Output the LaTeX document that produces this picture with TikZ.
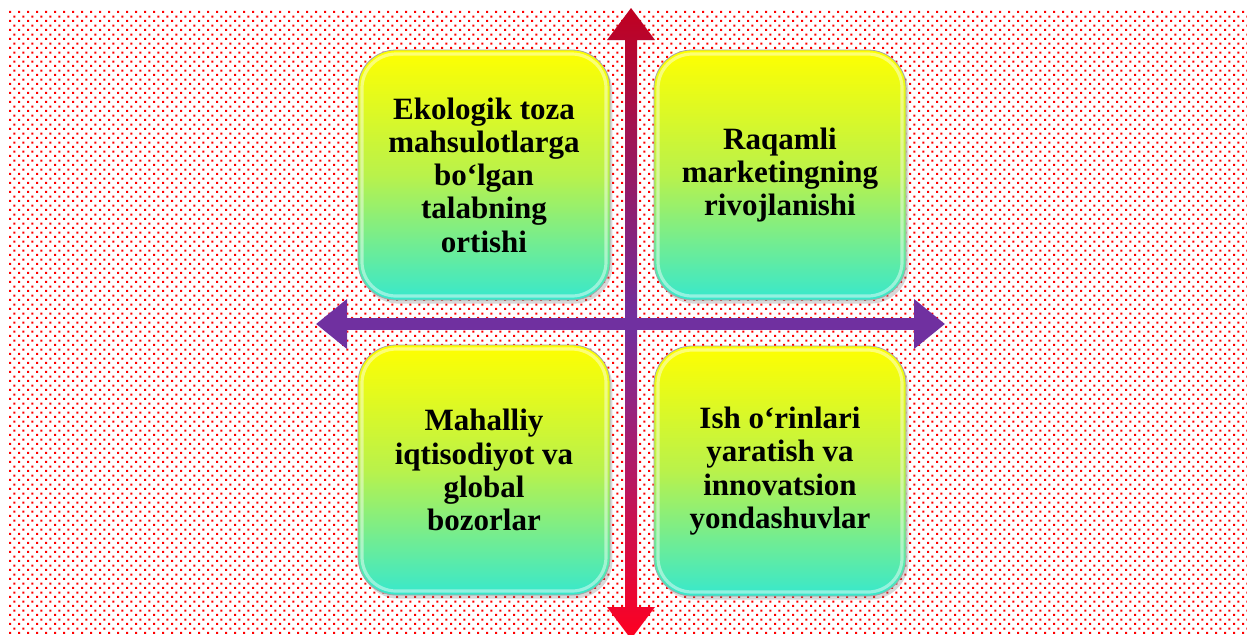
\documentclass[tikz,border=0pt]{standalone}
\usepackage{fontspec}
\setmainfont{Liberation Serif}
\usetikzlibrary{calc,patterns,shadows,arrows.meta}
\pgfdeclarepatternformonly{reddots}{\pgfqpoint{0pt}{0pt}}{\pgfqpoint{4.3pt}{4.3pt}}{\pgfqpoint{4.3pt}{4.3pt}}{%
  \pgfpathrectangle{\pgfqpoint{0.1pt}{0.1pt}}{\pgfqpoint{1.05pt}{1.05pt}}%
  \pgfpathrectangle{\pgfqpoint{2.25pt}{2.25pt}}{\pgfqpoint{1.05pt}{1.05pt}}%
  \pgfusepath{fill}}
\definecolor{axispurple}{RGB}{112,48,160}
\definecolor{axisdark}{RGB}{192,0,32}
\definecolor{axisred}{RGB}{255,0,32}
\definecolor{boxyellow}{RGB}{255,255,0}
\definecolor{boxgreen}{RGB}{185,242,75}
\definecolor{boxaqua}{RGB}{55,232,205}

\begin{document}
\begin{tikzpicture}[x=0.5pt, y=-0.5pt,
  quad/.style={rounded corners=19pt, minimum width=126pt, minimum height=125pt,
    draw=black!35, line width=0.4pt,
    top color=boxyellow, bottom color=boxaqua, middle color=boxgreen,
    drop shadow={shadow xshift=1.2pt, shadow yshift=-1.8pt, opacity=0.3},
    align=center, inner sep=0pt, font=\bfseries\fontsize{15.5}{16.6}\selectfont,
    path picture={\draw[white, opacity=0.45, line width=1.6pt, rounded corners=17pt]
      ([shift={(2pt,2pt)}]path picture bounding box.south west) rectangle
      ([shift={(-2pt,-2pt)}]path picture bounding box.north east);}},
  hbar/.style={draw=axispurple, line width=6pt,
    {Triangle[width=24pt,length=15.5pt]}-{Triangle[width=24pt,length=15.5pt]}},
  vbar/.style={top color=axisdark, bottom color=axisred, middle color=axispurple}]

  \useasboundingbox (0,0) rectangle (1247,634);
  \fill[white] (0,0) rectangle (1247,634);
  \fill[pattern=reddots, pattern color=red] (8,10) rectangle (1247,634);

  % axes
  \coordinate (north) at (631,8);
  \coordinate (south) at (631,639);
  \coordinate (west) at (316,324);
  \coordinate (east) at (945,324);
  \path[vbar] (north) -- ++(24,32) -- ++(-18,0) -- ($(south)+(6,-32)$) -- ++(18,0)
    -- (south) -- ++(-24,-32) -- ++(18,0) -- ($(north)+(-6,32)$) -- ++(-18,0) -- cycle;
  \draw[hbar] (west) -- (east);

  % quadrants
  \node[quad] (eco) at (484,175) {Ekologik toza\\mahsulotlarga\\bo‘lgan\\talabning\\ortishi};
  \node[quad] (digital) at (780,175) {Raqamli\\marketingning\\rivojlanishi};
  \node[quad] (local) at (484,470) {Mahalliy\\iqtisodiyot va\\global\\bozorlar};
  \node[quad] (jobs) at (780,471) {Ish o‘rinlari\\yaratish va\\innovatsion\\yondashuvlar};
\end{tikzpicture}
\end{document}
